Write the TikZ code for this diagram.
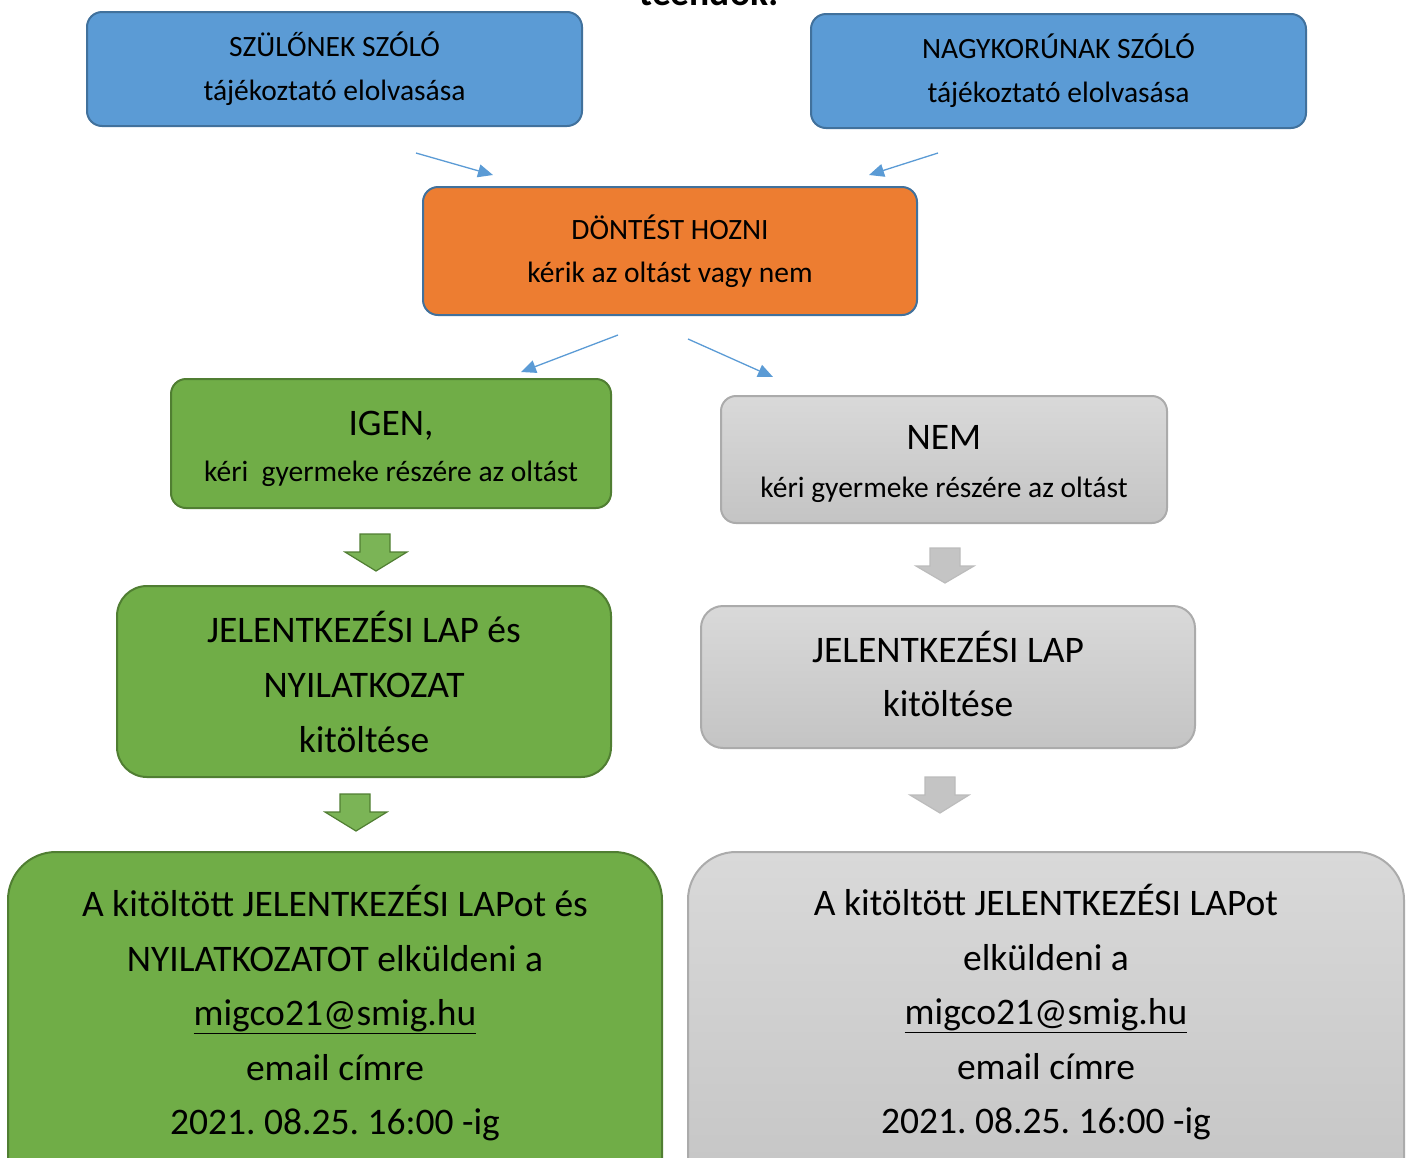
\documentclass[tikz,border=0pt]{standalone}
\usepackage{fontspec}
\setmainfont{Carlito}
\usetikzlibrary{arrows.meta}
\frenchspacing
\definecolor{bfill}{HTML}{5B9BD5}
\definecolor{bline}{HTML}{41719C}
\definecolor{ofill}{HTML}{ED7D31}
\definecolor{gfill}{HTML}{70AD47}
\definecolor{gline}{HTML}{507E32}
\definecolor{grtop}{HTML}{D9D9D9}
\definecolor{grbot}{HTML}{C4C4C4}
\definecolor{grline}{HTML}{ABABAB}
\definecolor{conncol}{HTML}{5B9BD5}
\tikzset{
  box/.style={draw, line width=2pt, rounded corners=15pt, align=center, inner sep=0pt, text=black},
  bluebox/.style={box, fill=bfill, draw=bline, font=\fontsize{29.5}{44}\selectfont},
  orangebox/.style={box, fill=ofill, draw=bline, font=\fontsize{29.5}{43}\selectfont},
  greenbox/.style={box, fill=gfill, draw=gline},
  graybox/.style={box, top color=grtop, bottom color=grbot, draw=grline},
  conn/.style={draw=conncol, line width=1.3pt, -{Triangle[length=15pt,width=13pt]}},
  greenarrow/.style={fill=gfill!92!white, draw=gline, line width=1.2pt},
  grayarrow/.style={fill=grbot, draw=grline!80!white, line width=1.2pt},
  bigtext/.style={anchor=north, align=center, font=\fontsize{37.5}{54.5}\selectfont, inner sep=0pt},
}
\begin{document}
\begin{tikzpicture}[x=1pt,y=-1pt]
\useasboundingbox (0,0) rectangle (1410,1157);
\node[anchor=base, font=\fontsize{37.5}{40}\selectfont\bfseries] (title) at (709,5) {teendők:};

\node[bluebox, minimum width=495pt, minimum height=114pt] (szulo) at (334.5,69) {SZÜLŐNEK SZÓLÓ\\tájékoztató elolvasása};
\node[bluebox, minimum width=495pt, minimum height=114pt] (nagy) at (1058.5,71) {NAGYKORÚNAK SZÓLÓ\\tájékoztató elolvasása};
\node[orangebox, minimum width=494pt, minimum height=128pt] (dontes) at (670,251) {DÖNTÉST HOZNI\\kérik az oltást vagy nem};

\node[greenbox, minimum width=440pt, minimum height=129pt] (igen) at (391,443.5) {};
\node[anchor=base, font=\fontsize{37.5}{40}\selectfont] (igent) at (391,435) {IGEN,};
\node[anchor=base, font=\fontsize{29.5}{40}\selectfont] (igent2) at (391,481) {kéri\ \ gyermeke részére az oltást};
\node[graybox, minimum width=446pt, minimum height=127pt] (nem) at (944,459.5) {};
\node[anchor=base, font=\fontsize{37.5}{40}\selectfont] (nemt) at (944,449) {NEM};
\node[anchor=base, font=\fontsize{29.5}{40}\selectfont] (nemt2) at (944,497) {kéri gyermeke részére az oltást};

\node[greenbox, minimum width=494pt, minimum height=191pt, rounded corners=30pt, font=\fontsize{37.5}{55}\selectfont] (jelg) at (364,681.5) {JELENTKEZÉSI LAP és\\NYILATKOZAT\\kitöltése};
\node[graybox, minimum width=494pt, minimum height=142pt, rounded corners=22pt] (jelgr) at (948,677) {};
\node[anchor=center, align=center, inner sep=0pt, font=\fontsize{37.5}{54}\selectfont] (jelgrt) at (948,674) {JELENTKEZÉSI LAP\\kitöltése};

\node[greenbox, minimum width=654pt, minimum height=360pt, rounded corners=48pt, anchor=north] (kuldg) at (335,851) {};
\node[graybox, minimum width=716pt, minimum height=360pt, rounded corners=48pt, anchor=north] (kuldgr) at (1046,851) {};
\node[bigtext] (tg) at ([yshift=-34pt]kuldg.north) {A kitöltött JELENTKEZÉSI LAPot és\\NYILATKOZATOT elküldeni a\\\underline{migco21@smig.hu}\\email címre\\2021. 08.25. 16:00 -ig};
\node[bigtext] (tgr) at ([yshift=-33pt]kuldgr.north) {A kitöltött JELENTKEZÉSI LAPot\\elküldeni a\\\underline{migco21@smig.hu}\\email címre\\2021. 08.25. 16:00 -ig};

% block arrows
\draw[greenarrow] (360,534) -- (390,534) -- (390,552) -- (407,552) -- (376,571) -- (345,552) -- (360,552) -- cycle;
\draw[grayarrow] (930,548) -- (960,548) -- (960,566) -- (974,566) -- (945,583) -- (916,566) -- (930,566) -- cycle;
\draw[greenarrow] (340,794) -- (370,794) -- (370,812) -- (387,812) -- (356,831) -- (325,812) -- (340,812) -- cycle;
\draw[grayarrow] (925,777) -- (955,777) -- (955,795) -- (969,795) -- (940,813) -- (910,795) -- (925,795) -- cycle;

% connectors
\coordinate (c1s) at (416,153); \coordinate (c1e) at (493,175);
\coordinate (c2s) at (938,153); \coordinate (c2e) at (869,175);
\coordinate (c3s) at (618,335); \coordinate (c3e) at (521,372);
\coordinate (c4s) at (688,339); \coordinate (c4e) at (773,377);
\draw[conn] (c1s) -- (c1e);
\draw[conn] (c2s) -- (c2e);
\draw[conn] (c3s) -- (c3e);
\draw[conn] (c4s) -- (c4e);
\end{tikzpicture}
\end{document}
